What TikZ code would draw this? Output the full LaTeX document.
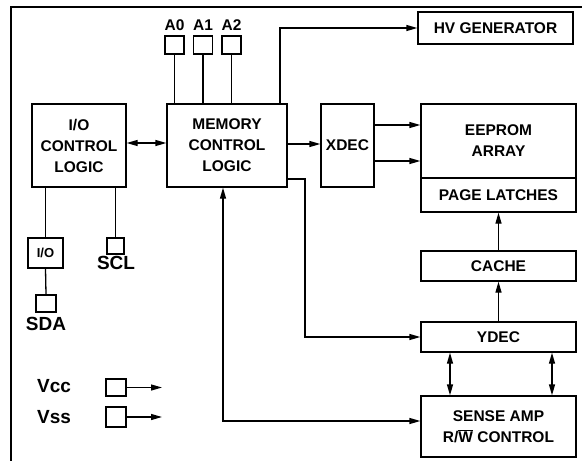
\documentclass[tikz,border=0pt]{standalone}
\usepackage{fontspec}
\setmainfont{Liberation Sans}
\usetikzlibrary{arrows.meta}
\begin{document}
\begin{tikzpicture}[x=1pt,y=-1pt,line width=1.3pt,
    >={Triangle[length=11pt,width=6pt]},
    every node/.style={font=\fontsize{15.5}{21}\selectfont\bfseries,inner sep=0pt},
    blk/.style={draw,align=center},
    pin/.style={draw,minimum width=19pt,minimum height=18pt},
    pinlabel/.style={font=\fontsize{19}{21}\selectfont\bfseries}]
  \useasboundingbox (0,0) rectangle (582,461);
  % frame
  \draw (11,461) -- (11,7) -- (582,7);
  % blocks
  \node[blk,minimum width=94pt,minimum height=83pt] (io) at (79,145.5) {I/O\\CONTROL\\LOGIC};
  \node[blk,minimum width=120pt,minimum height=83pt] (mem) at (227,145.5) {MEMORY\\CONTROL\\LOGIC};
  \node[blk,minimum width=53pt,minimum height=83pt] (xdec) at (347.5,145.5) {XDEC};
  \node[blk,minimum width=155pt,minimum height=32pt] (hv) at (495.5,28) {HV GENERATOR};
  \node[blk,minimum width=155pt,minimum height=74pt] (array) at (498.5,141) {EEPROM\\ARRAY};
  \node[blk,minimum width=155pt,minimum height=34pt] (latch) at (498.5,195) {PAGE LATCHES};
  \node[blk,minimum width=155pt,minimum height=30pt] (cache) at (498.5,266) {CACHE};
  \node[blk,minimum width=155pt,minimum height=30pt] (ydec) at (498.5,337) {YDEC};
  \node[blk,minimum width=155pt,minimum height=61pt] (sense) at (498.5,426.5)
    {SENSE AMP\\R/$\overline{\hbox{W}}$ CONTROL};
  % address pins
  \foreach \n/\x in {0/174.5,1/203,2/231.5} {
    \node[pin] (a\n) at (\x,45) {};
    \node (la\n) at (\x,25) {A\n};
    \draw (a\n.south) -- (a\n.south |- mem.north);
  }
  % serial side
  \node[blk,minimum width=35pt,minimum height=30pt] (iobuf) at (45.5,253) {\fontsize{13}{15}\selectfont I/O};
  \node[pin,minimum width=20pt,minimum height=17pt] (sda) at (46,303.5) {};
  \node[pinlabel] (lsda) at (46,324) {SDA};
  \node[pin,minimum width=17pt,minimum height=16pt] (scl) at (115.5,246) {};
  \node[pinlabel] (lscl) at (116,263) {SCL};
  \draw (io.south -| iobuf.north) -- (iobuf.north);
  \draw (iobuf.south) -- (sda.north);
  \draw (io.south -| scl.north) -- (scl.north);
  % supply pins
  \node[pin,minimum width=20pt,minimum height=17pt] (vcc) at (116,387.5) {};
  \node[pin,minimum width=20pt,minimum height=20pt] (vss) at (116,417) {};
  \node[pinlabel] (lvcc) at (54,386) {Vcc};
  \node[pinlabel] (lvss) at (54,417) {Vss};
  \coordinate (vccend) at (162,387.5);
  \coordinate (vssend) at (162,417);
  \draw[->] (vcc.east) -- (vccend);
  \draw[->] (vss.east) -- (vssend);
  % connections
  \draw[<->] (io.east |- 0,143) -- (mem.west |- 0,143);
  \draw[->] (mem.north -| 280,0) |- (hv.west);
  \draw[->] (mem.east |- 0,144) -- (xdec.west |- 0,144);
  \draw[->] (xdec.east |- 0,125) -- (array.west |- 0,125);
  \draw[->] (xdec.east |- 0,161) -- (array.west |- 0,161);
  \draw[->] (mem.east |- 0,179) -- (305,179) |- (ydec.west);
  \draw[<->] (mem.south -| 223,0) |- (sense.west |- 0,421);
  \draw[->] (ydec.north) -- (cache.south);
  \draw[->] (cache.north) -- (latch.south);
  \draw[<->] (ydec.south -| 450,0) -- (sense.north -| 450,0);
  \draw[<->] (ydec.south -| 552,0) -- (sense.north -| 552,0);
\end{tikzpicture}
\end{document}
